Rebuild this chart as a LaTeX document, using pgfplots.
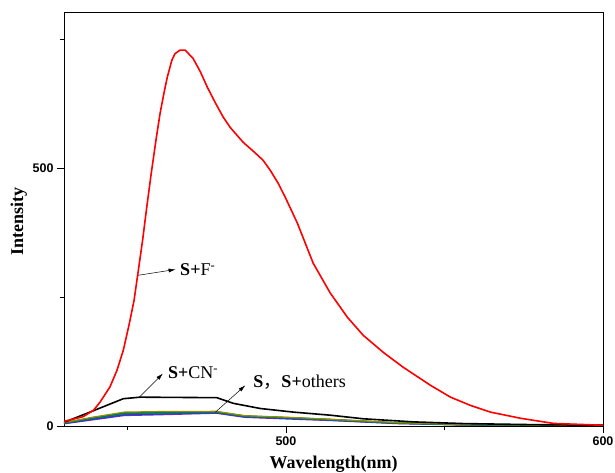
\documentclass[border=0pt]{standalone}
\usepackage{fontspec}
\setmainfont{Liberation Serif}
\newfontfamily\arialfont{Liberation Sans}
\newfontfamily\cjk{Noto Sans CJK SC}
\usepackage{pgfplots}
\pgfplotsset{compat=1.18}
\usetikzlibrary{arrows.meta}
\definecolor{olivec}{RGB}{150,140,0}
\definecolor{greenc}{RGB}{0,120,60}
\definecolor{tealc}{RGB}{0,128,128}
\definecolor{bluec}{RGB}{30,60,200}
\definecolor{purplec}{RGB}{120,40,200}
\begin{document}
\begin{tikzpicture}
\useasboundingbox (-64pt,-47pt) rectangle (551pt,426pt);
\begin{axis}[
  scale only axis, width=539pt, height=414pt,
  xmin=430, xmax=600, ymin=0, ymax=804,
  axis line style={line width=0.9pt, black},
  xtick={500,600}, minor xtick={450,550},
  ytick={0,500}, minor ytick={250,750},
  xtick pos=bottom, ytick pos=left,
  tick align=outside,
  major tick length=7pt, minor tick length=4pt,
  tick style={line width=0.8pt, black},
  ticklabel style={font=\arialfont\bfseries\fontsize{12.5}{15}\selectfont},
  /pgf/number format/assume math mode=true,
  xlabel={Wavelength(nm)}, ylabel={Intensity},
  label style={font=\bfseries\fontsize{18}{20}\selectfont},
  xlabel style={at={(axis description cs:0.5,-0.092)}, anchor=center},
  ylabel style={at={(axis description cs:-0.084,0.493)}, anchor=center},
  clip=true,
]
% others bundle
\addplot[purplec, line width=1.4pt] coordinates {
(430,4.5) (439,12) (449,20.5) (460,22) (478,25) (487,17) (502,13.5) (514,10.8) (535,4.8) (556,2) (600,0.5)};
\addplot[bluec, line width=1.4pt] coordinates {
(430,5) (439,13.5) (449,22) (460,23.5) (478,26) (487,18) (502,14.5) (514,11.5) (535,5.3) (556,2.4) (600,0.6)};
\addplot[tealc, line width=1.4pt] coordinates {
(430,5.8) (439,15) (449,24) (460,25) (478,27) (487,19) (502,15.5) (514,12.4) (535,5.8) (556,2.7) (600,0.8)};
\addplot[greenc, line width=1.4pt] coordinates {
(430,6) (439,16) (449,25.5) (460,26.5) (478,27.5) (487,19.5) (502,16) (514,12.7) (535,6) (556,2.8) (600,0.9)};
\addplot[olivec, line width=1.2pt] coordinates {
(430,6.5) (439,17) (449,27) (460,28) (478,28.5) (487,20) (502,16.5) (514,13) (535,6.5) (556,3) (600,1)};
% S+CN-
\addplot[black, line width=1.6pt] coordinates {
(430.3,7.8) (438.2,27) (448.7,53) (454,56) (478.2,55) (483.4,44) (491.9,34) (502.3,27) (514,21) (524.4,14) (540.2,8) (556,4.7) (577.1,2.7) (600,1.4)};
% S+F-
\addplot[red, line width=1.6pt, line join=round] coordinates {
(430,9) (436,18) (439.3,30.5) (441.4,46.6) (444.5,76) (446.7,108) (448.7,147) (450.5,196) (452.1,244) (453.6,309) (454.8,361) (456.1,425) (457.5,490) (459.0,555) (460.3,607) (461.7,652) (462.6,678) (464.0,710) (465.0,723) (466.6,730) (468.2,730) (470.7,714) (473,688) (475.2,658) (477.7,628) (480.2,600) (482.4,580) (486.5,551) (490,532) (492.8,516) (495.0,497) (497.5,472) (499.8,444) (503.6,394) (508.6,316) (514.0,258) (519.4,211) (524.4,176) (530.7,143) (537.0,114) (545.6,79) (551.9,56) (558.2,40) (564.5,27) (574.0,15) (584.4,5) (600,1.4)};
% annotations
\draw[line width=0.5pt, -{Latex[length=7pt,width=4pt]}] (axis cs:453.4,292.7) -- (axis cs:465.2,304);
\node[anchor=west, inner sep=0pt, font=\fontsize{18}{20}\selectfont] at (axis cs:466.6,304) {\textbf{S+}F\textsuperscript{-}};
\draw[line width=0.5pt, -{Latex[length=7pt,width=4pt]}] (axis cs:453.7,55.8) -- (axis cs:461.2,102);
\node[anchor=west, inner sep=0pt, font=\fontsize{18}{20}\selectfont] at (axis cs:462.8,104) {\textbf{S+}CN\textsuperscript{-}};
\draw[line width=0.5pt, -{Latex[length=7pt,width=4pt]}] (axis cs:477.7,26.6) -- (axis cs:487.2,79);
\node[anchor=west, inner sep=0pt, font=\fontsize{18}{20}\selectfont] at (axis cs:489.7,85) {\textbf{S}{\cjk ，}\textbf{S+}others};
\end{axis}
\end{tikzpicture}
\end{document}
